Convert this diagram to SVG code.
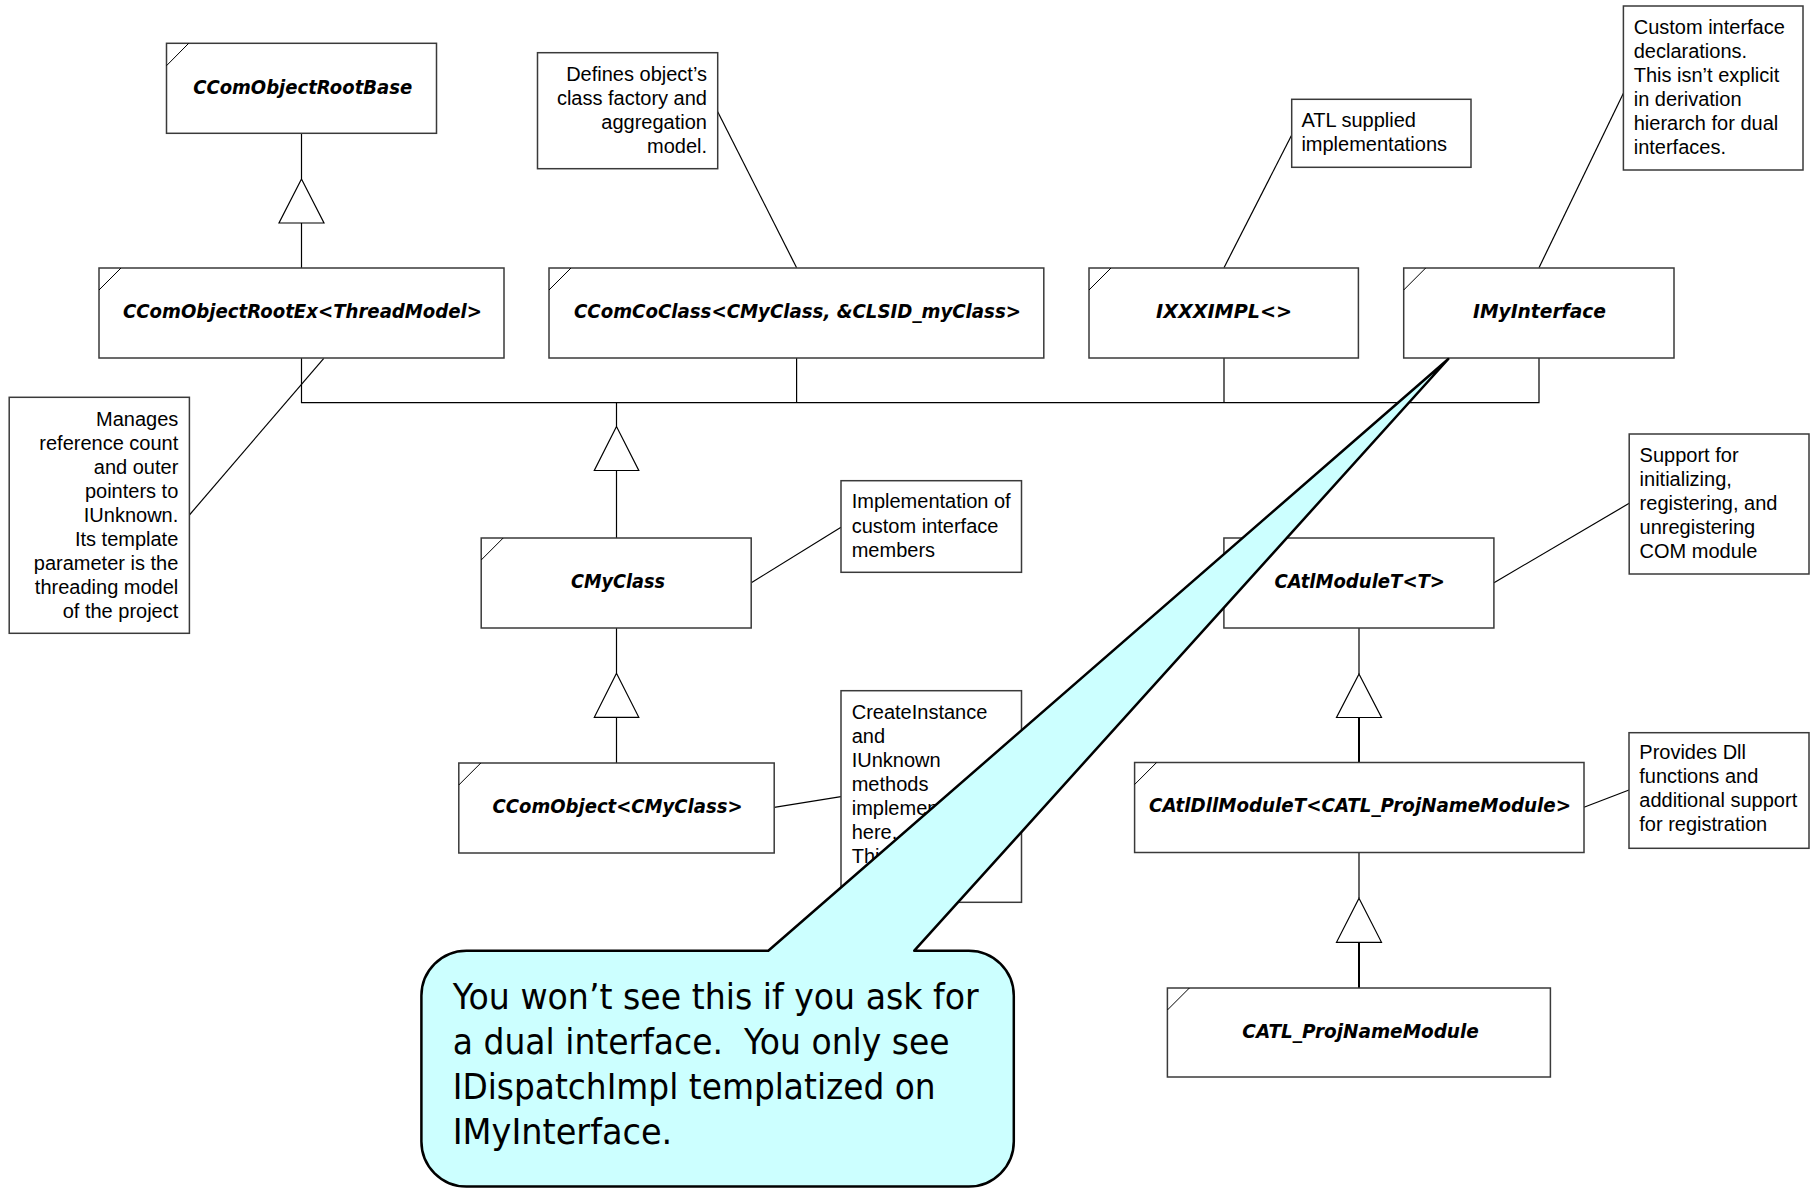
<svg xmlns="http://www.w3.org/2000/svg" width="1814" height="1188" viewBox="0 0 1814 1188">
<style>
.cls{fill:#fff;stroke:#3a3a3a;stroke-width:1.5}
.crn{stroke:#000;stroke-width:1;fill:none}
.ct{font-family:"DejaVu Sans","Liberation Sans",sans-serif;font-weight:bold;font-style:oblique;font-size:20px;fill:#000;text-anchor:middle}
.note{fill:#fff;stroke:#3a3a3a;stroke-width:1.5}
.nt{font-family:"Liberation Sans",Arial,sans-serif;font-size:20px;fill:#000}
.r{text-anchor:end}
.ln{stroke:#000;stroke-width:1.2;fill:none}
.thk{stroke:#000;stroke-width:2;fill:none}
.tri{fill:#fff;stroke:#000;stroke-width:1.2}
.call{fill:#CCFFFF;stroke:#000;stroke-width:2.5;stroke-linejoin:round}
.cbt{font-family:"DejaVu Sans","Noto Sans",sans-serif;font-size:35px;fill:#000;white-space:pre}
</style>

<g id="connectors">
  <line class="ln" x1="301.5" y1="133.3" x2="301.5" y2="179"/>
  <polygon class="tri" points="301.5,179 279,223 324,223"/>
  <line class="ln" x1="301.5" y1="223" x2="301.5" y2="268"/>
  <polyline class="ln" points="301.5,358 301.5,402.7 1539,402.7 1539,358"/>
  <line class="ln" x1="796.6" y1="358" x2="796.6" y2="402.7"/>
  <line class="ln" x1="1224" y1="358" x2="1224" y2="402.7"/>
  <line class="ln" x1="616.5" y1="402.7" x2="616.5" y2="426.5"/>
  <polygon class="tri" points="616.5,426.5 594.3,470.5 638.8,470.5"/>
  <line class="ln" x1="616.5" y1="470.5" x2="616.5" y2="538"/>
  <line class="ln" x1="616.5" y1="628" x2="616.5" y2="673.3"/>
  <polygon class="tri" points="616.5,673.3 594.3,717.3 638.8,717.3"/>
  <line class="ln" x1="616.5" y1="717.3" x2="616.5" y2="763"/>
  <line class="ln" x1="1359" y1="628" x2="1359" y2="674"/>
  <polygon class="tri" points="1359,674 1336.5,717.5 1381.5,717.5"/>
  <line class="thk" x1="1359" y1="717.5" x2="1359" y2="762.5"/>
  <line class="ln" x1="1359" y1="852.5" x2="1359" y2="898.3"/>
  <polygon class="tri" points="1359,898.3 1336.5,942.3 1381.5,942.3"/>
  <line class="thk" x1="1359" y1="942.3" x2="1359" y2="988"/>
  <line class="ln" x1="189.4" y1="515" x2="323.8" y2="358.3"/>
  <line class="ln" x1="717.7" y1="111.7" x2="796.6" y2="267.7"/>
  <line class="ln" x1="1291.7" y1="135" x2="1224" y2="267.7"/>
  <line class="ln" x1="1623.4" y1="93.3" x2="1539" y2="267.7"/>
  <line class="ln" x1="751.3" y1="582.7" x2="841" y2="527.3"/>
  <line class="ln" x1="774.2" y1="807.3" x2="841" y2="796.7"/>
  <line class="ln" x1="1494" y1="582.7" x2="1629.2" y2="503.3"/>
  <line class="ln" x1="1584" y1="807.3" x2="1629" y2="790"/>
</g>

<g id="CComObjectRootBase">
  <rect class="cls" x="166.5" y="43.3" width="270" height="90"/>
  <line class="crn" x1="166.5" y1="65.7" x2="188.7" y2="43.3"/>
  <text class="ct" x="302.7" y="94.3" textLength="219" lengthAdjust="spacingAndGlyphs">CComObjectRootBase</text>
</g>
<g id="CComObjectRootEx">
  <rect class="cls" x="99" y="268" width="405" height="90"/>
  <line class="crn" x1="99" y1="290" x2="121" y2="268"/>
  <text class="ct" x="302.5" y="318" textLength="359" lengthAdjust="spacingAndGlyphs">CComObjectRootEx&lt;ThreadModel&gt;</text>
</g>
<g id="CComCoClass">
  <rect class="cls" x="549" y="268" width="494.8" height="90"/>
  <line class="crn" x1="549" y1="290" x2="571" y2="268"/>
  <text class="ct" x="797.5" y="318" textLength="447" lengthAdjust="spacingAndGlyphs">CComCoClass&lt;CMyClass, &amp;CLSID_myClass&gt;</text>
</g>
<g id="IXXXIMPL">
  <rect class="cls" x="1089" y="268" width="269.4" height="90"/>
  <line class="crn" x1="1089" y1="290" x2="1111" y2="268"/>
  <text class="ct" x="1224" y="318" textLength="136" lengthAdjust="spacingAndGlyphs">IXXXIMPL&lt;&gt;</text>
</g>
<g id="IMyInterface">
  <rect class="cls" x="1403.7" y="268" width="270.3" height="90"/>
  <line class="crn" x1="1403.7" y1="290" x2="1425.7" y2="268"/>
  <text class="ct" x="1539.5" y="318" textLength="133" lengthAdjust="spacingAndGlyphs">IMyInterface</text>
</g>
<g id="CMyClass">
  <rect class="cls" x="481.2" y="538" width="270" height="90"/>
  <line class="crn" x1="481.2" y1="560" x2="503.2" y2="538"/>
  <text class="ct" x="618" y="588.3" textLength="94" lengthAdjust="spacingAndGlyphs">CMyClass</text>
</g>
<g id="CComObject">
  <rect class="cls" x="458.8" y="763" width="315.4" height="90"/>
  <line class="crn" x1="458.8" y1="785" x2="480.8" y2="763"/>
  <text class="ct" x="617.5" y="813.3" textLength="250" lengthAdjust="spacingAndGlyphs">CComObject&lt;CMyClass&gt;</text>
</g>
<g id="CAtlModuleT">
  <rect class="cls" x="1223.9" y="538" width="270" height="90"/>
  <line class="crn" x1="1223.9" y1="560" x2="1245.9" y2="538"/>
  <text class="ct" x="1359.7" y="588.3" textLength="170.6" lengthAdjust="spacingAndGlyphs">CAtlModuleT&lt;T&gt;</text>
</g>
<g id="CAtlDllModuleT">
  <rect class="cls" x="1134.6" y="762.5" width="449.4" height="90"/>
  <line class="crn" x1="1134.6" y1="784.5" x2="1156.6" y2="762.5"/>
  <text class="ct" x="1360" y="811.7" textLength="422" lengthAdjust="spacingAndGlyphs">CAtlDllModuleT&lt;CATL_ProjNameModule&gt;</text>
</g>
<g id="CATL_ProjNameModule">
  <rect class="cls" x="1167.4" y="988" width="383" height="89"/>
  <line class="crn" x1="1167.4" y1="1010" x2="1189.4" y2="988"/>
  <text class="ct" x="1360.6" y="1038.3" textLength="236.5" lengthAdjust="spacingAndGlyphs">CATL_ProjNameModule</text>
</g>

<g id="note-manages">
  <rect class="note" x="9.2" y="397.3" width="180.2" height="236"/>
  <text class="nt r" x="178.3" y="426">Manages</text>
  <text class="nt r" x="178.3" y="450">reference count</text>
  <text class="nt r" x="178.3" y="474">and outer</text>
  <text class="nt r" x="178.3" y="498">pointers to</text>
  <text class="nt r" x="178.3" y="522">IUnknown.</text>
  <text class="nt r" x="178.3" y="546">Its template</text>
  <text class="nt r" x="178.3" y="570">parameter is the</text>
  <text class="nt r" x="178.3" y="594">threading model</text>
  <text class="nt r" x="178.3" y="618">of the project</text>
</g>
<g id="note-defines">
  <rect class="note" x="537.5" y="52.7" width="180.2" height="116"/>
  <text class="nt r" x="707" y="81">Defines object’s</text>
  <text class="nt r" x="707" y="105">class factory and</text>
  <text class="nt r" x="707" y="129">aggregation</text>
  <text class="nt r" x="707" y="153">model.</text>
</g>
<g id="note-atl">
  <rect class="note" x="1291.7" y="99.3" width="179.3" height="68"/>
  <text class="nt" x="1301.4" y="126.7">ATL supplied</text>
  <text class="nt" x="1301.4" y="150.7">implementations</text>
</g>
<g id="note-custom">
  <rect class="note" x="1623.4" y="6" width="179.6" height="164"/>
  <text class="nt" x="1633.7" y="34.3">Custom interface</text>
  <text class="nt" x="1633.7" y="58.3">declarations.</text>
  <text class="nt" x="1633.7" y="82.3">This isn’t explicit</text>
  <text class="nt" x="1633.7" y="106.3">in derivation</text>
  <text class="nt" x="1633.7" y="130.3">hierarch for dual</text>
  <text class="nt" x="1633.7" y="154.3">interfaces.</text>
</g>
<g id="note-implementation">
  <rect class="note" x="841" y="480.7" width="180.5" height="91.6"/>
  <text class="nt" x="851.7" y="508.3">Implementation of</text>
  <text class="nt" x="851.7" y="532.5">custom interface</text>
  <text class="nt" x="851.7" y="556.7">members</text>
</g>
<g id="note-createinstance">
  <rect class="note" x="841" y="690.7" width="180.5" height="211.6"/>
  <text class="nt" x="851.7" y="719.3">CreateInstance</text>
  <text class="nt" x="851.7" y="743.3">and</text>
  <text class="nt" x="851.7" y="767.3">IUnknown</text>
  <text class="nt" x="851.7" y="791.3">methods</text>
  <text class="nt" x="851.7" y="815.3">implemented</text>
  <text class="nt" x="851.7" y="839.3">here.</text>
  <text class="nt" x="851.7" y="863.3">This</text>
</g>
<g id="note-support">
  <rect class="note" x="1629.2" y="434" width="179.8" height="140"/>
  <text class="nt" x="1639.6" y="461.7">Support for</text>
  <text class="nt" x="1639.6" y="485.7">initializing,</text>
  <text class="nt" x="1639.6" y="509.7">registering, and</text>
  <text class="nt" x="1639.6" y="533.7">unregistering</text>
  <text class="nt" x="1639.6" y="557.7">COM module</text>
</g>
<g id="note-provides">
  <rect class="note" x="1629" y="732.7" width="180" height="115.6"/>
  <text class="nt" x="1639.3" y="759.3">Provides Dll</text>
  <text class="nt" x="1639.3" y="783.3">functions and</text>
  <text class="nt" x="1639.3" y="807.3">additional support</text>
  <text class="nt" x="1639.3" y="831.3">for registration</text>
</g>

<g id="callout">
  <path class="call" d="M466.4,950.7 L768.3,950.7 L1448.3,359 L914.3,950.7 L968.8,950.7 A45,45 0 0 1 1013.8,995.7 L1013.8,1141.5 A45,45 0 0 1 968.8,1186.5 L466.4,1186.5 A45,45 0 0 1 421.4,1141.5 L421.4,995.7 A45,45 0 0 1 466.4,950.7 Z"/>
  <text class="cbt" x="452.7" y="1009" textLength="526" lengthAdjust="spacingAndGlyphs">You won’t see this if you ask for</text>
  <text class="cbt" x="452.7" y="1054" textLength="497" lengthAdjust="spacingAndGlyphs" xml:space="preserve">a dual interface.  You only see</text>
  <text class="cbt" x="452.7" y="1099" textLength="483" lengthAdjust="spacingAndGlyphs">IDispatchImpl templatized on</text>
  <text class="cbt" x="452.7" y="1143.5" textLength="219.6" lengthAdjust="spacingAndGlyphs">IMyInterface.</text>
</g>
</svg>
